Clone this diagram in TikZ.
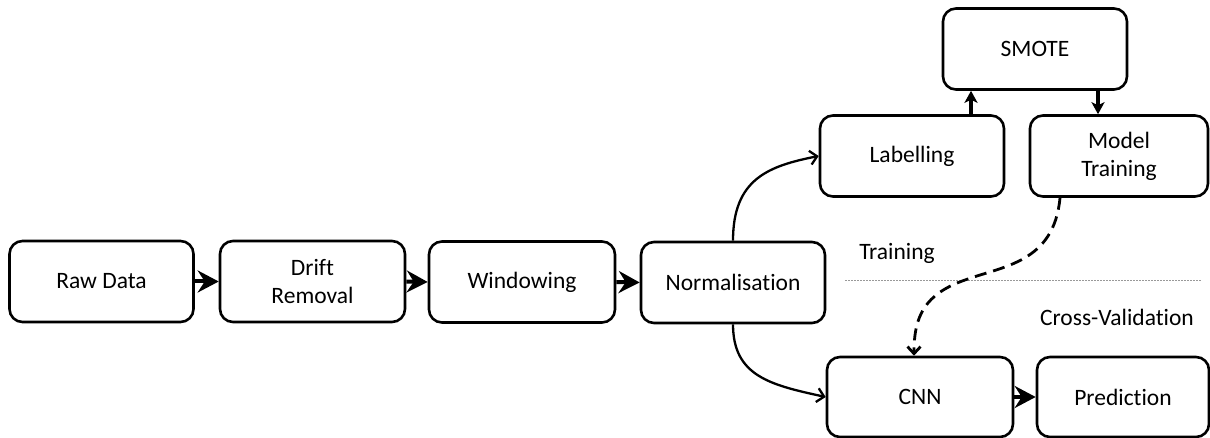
\documentclass[tikz,border=0pt]{standalone}
\usepackage{fontspec}
\setmainfont{Carlito}[Ligatures={NoCommon}]
\usetikzlibrary{arrows.meta}
\begin{document}
\begin{tikzpicture}[x=1pt,y=-1pt,
  box/.style={draw=black,line width=2.6pt,rounded corners=13pt,fill=white,
    minimum height=81pt,align=center,font=\fontsize{23.5}{28}\selectfont,inner sep=0pt},
  lbl/.style={font=\fontsize{23.5}{28}\selectfont,inner sep=0pt},
  thickarrow/.style={line width=4pt,-{Stealth[length=21pt,width=22pt,inset=7pt]}},
  vertarrow/.style={line width=4pt,-{Stealth[length=12pt,width=13pt,inset=3pt]}},
  curvearrow/.style={line width=2.3pt,-{Straight Barb[length=7pt,width=14pt]}},
  dasharrow/.style={line width=2.8pt,dash pattern=on 12pt off 7pt,-{Straight Barb[length=7pt,width=13pt]}}
]
\useasboundingbox (0,0) rectangle (1210,438);
\node[box,minimum width=184pt] (raw) at (101.5,281.5) {Raw Data};
\node[box,minimum width=185pt] (drift) at (312.5,281.5) {Drift\\Removal};
\node[box,minimum width=186pt] (win) at (522,282) {Windowing};
\node[box,minimum width=184pt] (norm) at (733,282.5) {Normalisation};
\node[box,minimum width=184pt] (label) at (912,156) {Labelling};
\node[box,minimum width=184pt] (smote) at (1035,49) {SMOTE};
\node[box,minimum width=178pt] (model) at (1119,156) {Model\\Training};
\node[box,minimum width=186pt,minimum height=80pt] (cnn) at (920,397) {CNN};
\node[box,minimum width=172pt,minimum height=80pt] (pred) at (1123,397) {Prediction};

\node[lbl] (train) at (897,253) {Training};
\node[lbl] (cv) at (1117,317) {Cross-Validation};

\coordinate (dl) at (845,281);
\coordinate (dr) at (1202,281);
\draw[gray!80,line width=1pt,dash pattern=on 1.5pt off 1.5pt] (dl) -- (dr);

\draw[thickarrow] (raw.east) -- (drift.west);
\draw[thickarrow] (drift.east) -- (win.west);
\draw[thickarrow] (win.east) -- (norm.west);
\draw[thickarrow] (cnn.east) -- (pred.west);

\draw[vertarrow] ([xshift=59pt]label.north) -- ([xshift=59pt]label.north |- smote.south);
\draw[vertarrow] ([xshift=63pt]smote.south) -- ([xshift=63pt]smote.south |- model.north);

\draw[curvearrow] (norm.north) .. controls +(0,-62) and +(-50,10) .. (label.west);
\draw[curvearrow] (norm.south) .. controls +(0,52) and +(-55,-12) .. (cnn.west);

\coordinate (dmid) at (965,280);
\draw[dasharrow] ([xshift=-59pt]model.south) .. controls +(-6,65) and +(38,-14) .. (dmid)
  .. controls +(-40,14) and +(0,-40) .. ([xshift=-6pt]cnn.north);
\end{tikzpicture}
\end{document}
